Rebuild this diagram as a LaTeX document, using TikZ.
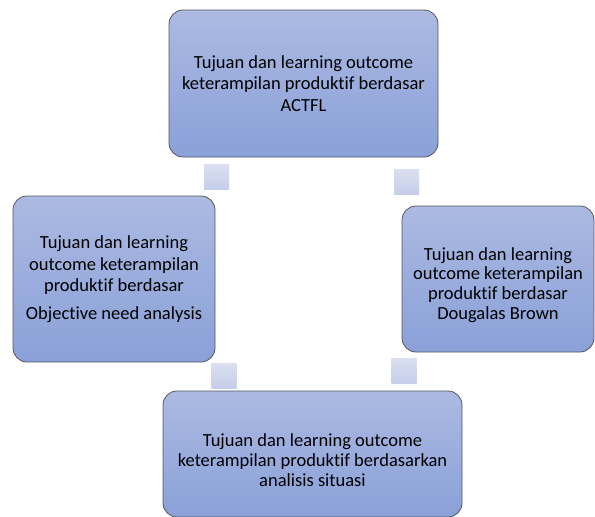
\documentclass[tikz,border=0pt]{standalone}
\usepackage{fontspec}
\setmainfont{Carlito}[Ligatures=NoCommon]
\usetikzlibrary{positioning}
\definecolor{boxtop}{RGB}{172,186,226}
\definecolor{boxbot}{RGB}{138,160,216}
\definecolor{boxline}{RGB}{85,88,98}
\definecolor{linktop}{RGB}{219,224,241}
\definecolor{linkbot}{RGB}{197,205,233}

\tikzset{
  stage/.style={draw=boxline, line width=0.8pt, rounded corners=14pt,
    top color=boxtop, bottom color=boxbot, inner sep=0pt},
  stagetext/.style={align=center, inner sep=0pt,
    font=\fontsize{18.5}{21.5}\selectfont},
  tight/.style={font=\fontsize{18.5}{19.7}\selectfont},
  link/.style={minimum size=25pt, inner sep=0pt, top color=linktop, bottom color=linkbot}
}

\begin{document}
\begin{tikzpicture}[x=1pt,y=-1pt]
  \useasboundingbox (0,0) rectangle (595,517);
  \clip (0,0) rectangle (595,517);

  % the four stages
  \node[stage, minimum width=269pt, minimum height=147pt] (actfl) at (303.5,83.5) {};
  \node[stage, minimum width=192pt, minimum height=146pt] (brown) at (498,279) {};
  \node[stage, minimum width=299pt, minimum height=126pt] (situasi) at (312.5,454) {};
  \node[stage, minimum width=202pt, minimum height=166pt] (need) at (114,279) {};

  % their texts
  \node[stagetext] (actfl-t) at (actfl.center)
    {Tujuan dan learning outcome\\keterampilan produktif berdasar\\ACTFL};
  \node[stagetext, tight] (brown-t) at ([yshift=-6pt]brown.center)
    {Tujuan dan learning\\outcome keterampilan\\produktif berdasar\\Dougalas Brown};
  \node[stagetext, tight] (situasi-t) at ([yshift=-6pt]situasi.center)
    {Tujuan dan learning outcome\\keterampilan produktif berdasarkan\\analisis situasi};
  \node[stagetext] (need-t) at (need.center)
    {Tujuan dan learning\\outcome keterampilan\\produktif berdasar\\[6pt]Objective need analysis};

  % small squares between them
  \node[link] (l1) at (406.5,181.5) {};
  \node[link] (l2) at (404,370.5) {};
  \node[link] (l3) at (224,376) {};
  \node[link] (l4) at (216.5,176.5) {};
\end{tikzpicture}
\end{document}
